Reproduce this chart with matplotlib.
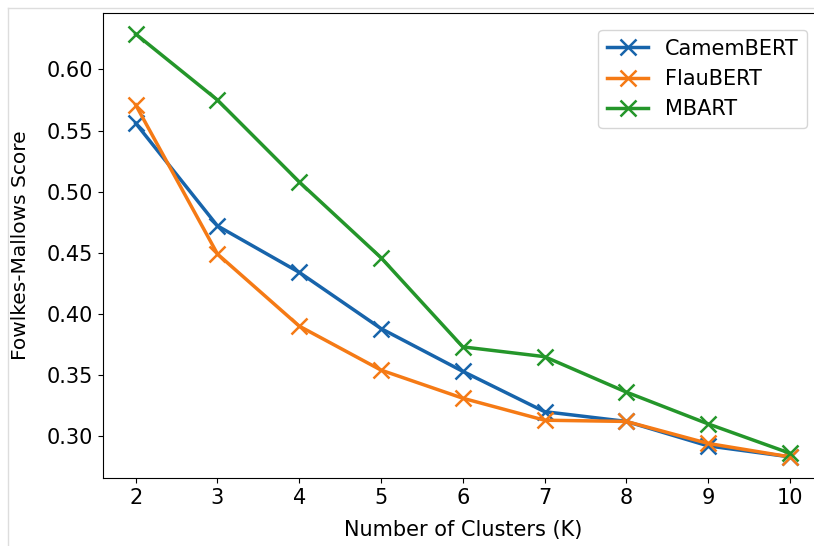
from matplotlib import pyplot as plt

clusters = [2, 3, 4, 5, 6, 7, 8, 9, 10]
camembert = [0.556, 0.472, 0.434, 0.388, 0.353, 0.320, 0.312, 0.292, 0.283]
flaubert = [0.571, 0.449, 0.390, 0.354, 0.331, 0.313, 0.312, 0.294, 0.283]
mbart = [0.629, 0.575, 0.508, 0.446, 0.373, 0.365, 0.336, 0.310, 0.286]


def figure(fig_name='out.png'):
    fig = plt.figure(figsize=(8.14, 5.46), dpi=100)
    ax = fig.add_axes([0.1265, 0.1245, 0.884, 0.852])
    style = dict(marker='x', markersize=12, markeredgewidth=1.8, linewidth=2.5)
    ax.plot(clusters, camembert, color='#1764ab', label='CamemBERT', **style)
    ax.plot(clusters, flaubert, color='#f57a15', label='FlauBERT', **style)
    ax.plot(clusters, mbart, color='#24962a', label='MBART', **style)
    ax.spines['right'].set_visible(False)
    ax.set_xticks(clusters)
    ax.tick_params(labelsize=15)
    ax.set_xlabel('Number of Clusters (K)', fontsize=15, labelpad=9)
    ax.set_ylabel('Fowlkes-Mallows Score', fontsize=14.5, labelpad=12)
    ax.legend(loc='upper right', fontsize=15, bbox_to_anchor=(0.993, 0.985))
    # faint frame of the original page
    fig.add_artist(plt.Line2D([0.01, 0.01], [0, 0.985], color='#dddddd', linewidth=1))
    fig.add_artist(plt.Line2D([0.01, 1], [0.985, 0.985], color='#dddddd', linewidth=1))
    fig.savefig(fig_name)


if __name__ == '__main__':
    figure()
